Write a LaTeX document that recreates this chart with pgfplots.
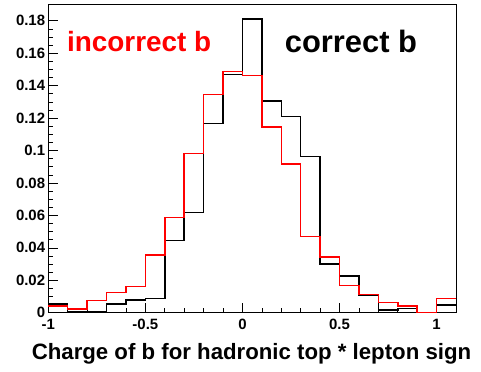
\documentclass[border=0pt]{standalone}
\usepackage{fontspec}
\setmainfont{Liberation Sans}
\usepackage{pgfplots}
\pgfplotsset{compat=1.18}
\pgfplotstableread{
x y
-1.0 0.0053
-0.9 0.0003
-0.8 0.0003
-0.7 0.0053
-0.6 0.0078
-0.5 0.0088
-0.4 0.0444
-0.3 0.0617
-0.2 0.1167
-0.1 0.1469
0.0 0.1810
0.1 0.1305
0.2 0.1210
0.3 0.0964
0.4 0.0300
0.5 0.0226
0.6 0.0109
0.7 0.0016
0.8 0.0027
0.9 0.0000
1.0 0.0049
1.1 0.0049
}\correct
\pgfplotstableread{
x y
-1.0 0.0041
-0.9 0.0023
-0.8 0.0074
-0.7 0.0125
-0.6 0.0160
-0.5 0.0356
-0.4 0.0588
-0.3 0.0980
-0.2 0.1344
-0.1 0.1486
0.0 0.1463
0.1 0.1145
0.2 0.0917
0.3 0.0469
0.4 0.0343
0.5 0.0169
0.6 0.0113
0.7 0.0062
0.8 0.0041
0.9 0.0000
1.0 0.0086
1.1 0.0086
}\incorrect
\begin{document}
\begin{tikzpicture}
\useasboundingbox (0bp,0bp) rectangle (481bp,372bp);
\begin{axis}[
  at={(48.3bp,59.3bp)}, anchor=south west,
  width=407.7bp, height=308.7bp, scale only axis,
  xmin=-1, xmax=1.1, ymin=0, ymax=0.1903,
  axis line style={line width=0.8bp},
  tick pos=left, tick align=inside,
  major tick length=10bp, minor tick length=5bp,
  every tick/.style={black, line width=0.6bp},
  xtick={-1,-0.5,0,0.5,1},
  xticklabels={-1,-0.5,0,0.5,1},
  minor x tick num=4,
  ytick={0,0.02,0.04,0.06,0.08,0.1,0.12,0.14,0.16,0.18},
  yticklabels={0,0.02,0.04,0.06,0.08,0.1,0.12,0.14,0.16,0.18},
  minor y tick num=3,
  scaled ticks=false,
  tick label style={font=\fontsize{15}{17}\selectfont\bfseries},
  yticklabel style={inner xsep=3bp, inner ysep=0pt},
  xticklabel style={inner ysep=6bp, inner xsep=0pt},
  clip=false,
]
\addplot[const plot mark left, black, line width=1.5bp] table[x=x,y=y] {\correct};
\addplot[const plot mark left, red, line width=1.5bp] table[x=x,y=y] {\incorrect};
\node[anchor=base west, inner sep=0pt, text=red, font=\fontsize{28}{30}\selectfont\bfseries] at (axis cs:-0.904,0.1613) {incorrect b};
\node[anchor=base west, inner sep=0pt, text=black, font=\fontsize{31}{33}\selectfont\bfseries] at (axis cs:0.2176,0.1603) {correct b};
\end{axis}
\node[anchor=base, inner sep=0pt, font=\fontsize{22.3}{25}\selectfont\bfseries] at (251.5bp,13bp) {Charge of b for hadronic top * lepton sign};
\end{tikzpicture}
\end{document}
